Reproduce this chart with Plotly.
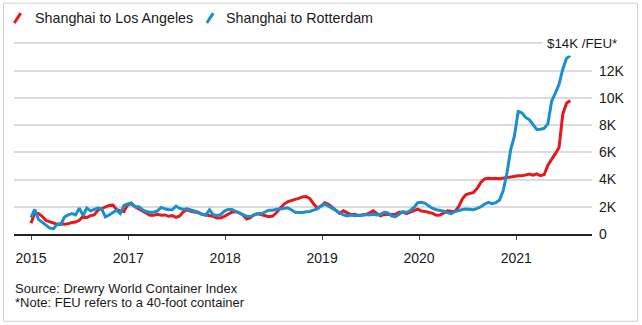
import pandas as pd
import plotly.graph_objects as go

# Drewry World Container Index, fortnightly readings, thousand USD per FEU
week_dates = pd.date_range("2016-01-01", periods=146, freq="14D")

la_k = [
    0.8, 1.5, 1.5, 1.3, 1.0, 0.9, 0.8, 0.72, 0.75, 0.72,
    0.75, 0.85, 0.88, 1.0, 1.3, 1.2, 1.35, 1.4, 1.75, 1.85,
    1.95, 2.1, 2.12, 1.8, 1.7, 1.65, 2.15, 2.22, 2.0, 1.85,
    1.66, 1.52, 1.37, 1.37, 1.44, 1.38, 1.4, 1.3, 1.35, 1.22,
    1.33, 1.65, 1.77, 1.67, 1.62, 1.55, 1.45, 1.41, 1.36, 1.3,
    1.18, 1.18, 1.3, 1.44, 1.6, 1.64, 1.55, 1.4, 1.1, 1.2,
    1.42, 1.48, 1.4, 1.36, 1.27, 1.32, 1.56, 1.9, 2.18, 2.36,
    2.47, 2.54, 2.62, 2.72, 2.75, 2.6, 2.2, 1.9, 2.05, 2.3,
    2.18, 1.95, 1.75, 1.52, 1.7, 1.56, 1.42, 1.45, 1.36, 1.38,
    1.43, 1.56, 1.7, 1.5, 1.33, 1.44, 1.45, 1.45, 1.45, 1.6,
    1.6, 1.5, 1.6, 1.72, 1.82, 1.68, 1.66, 1.58, 1.52, 1.38,
    1.4, 1.55, 1.7, 1.67, 1.66, 2.0, 2.58, 2.9, 3.0, 3.05,
    3.35, 3.8, 4.05, 4.1, 4.08, 4.1, 4.05, 4.1, 4.15, 4.18,
    4.22, 4.28, 4.27, 4.36, 4.4, 4.32, 4.42, 4.28, 4.36, 5.05,
    5.45, 5.9, 6.35, 8.8, 9.6, 9.8,
]

rotterdam_k = [
    1.2, 1.8, 1.07, 0.88, 0.65, 0.45, 0.38, 0.72, 0.7, 1.25,
    1.4, 1.5, 1.4, 1.9, 1.35, 1.9, 1.7, 1.8, 1.9, 1.85,
    1.25, 1.4, 1.55, 1.75, 1.5, 2.1, 2.2, 2.28, 2.0, 2.0,
    1.78, 1.65, 1.6, 1.6, 1.7, 1.95, 1.85, 1.78, 1.78, 2.05,
    1.88, 1.8, 1.85, 1.77, 1.66, 1.6, 1.45, 1.38, 1.78, 1.42,
    1.36, 1.42, 1.68, 1.8, 1.8, 1.68, 1.58, 1.45, 1.3, 1.28,
    1.42, 1.5, 1.5, 1.62, 1.75, 1.75, 1.82, 1.83, 1.9, 1.92,
    1.78, 1.6, 1.58, 1.58, 1.64, 1.65, 1.75, 1.85, 2.05, 2.2,
    2.05, 1.88, 1.7, 1.52, 1.4, 1.33, 1.4, 1.35, 1.38, 1.36,
    1.43, 1.4, 1.45, 1.4, 1.45, 1.6, 1.55, 1.32, 1.27, 1.45,
    1.65, 1.58, 1.73, 1.95, 2.3, 2.33, 2.25, 2.05, 1.88, 1.78,
    1.75, 1.68, 1.57, 1.5, 1.65, 1.73, 1.8, 1.83, 1.8, 1.78,
    1.88, 2.0, 2.2, 2.32, 2.22, 2.3, 2.5, 3.2, 4.5, 6.2,
    7.2, 9.0, 8.9, 8.56, 8.4, 8.0, 7.68, 7.7, 7.76, 8.1,
    9.75, 10.35, 11.0, 12.1, 12.9, 13.1,
]

series_names = ["Shanghai to Los Angeles", "Shanghai to Rotterdam"]
series_colors = ["#e3191b", "#1a8fd0"]

x_tick_dates = ["2016-01-01", "2017-01-01", "2018-01-01", "2019-01-01", "2020-01-01", "2021-01-01"]
x_tick_labels = ["2015", "2017", "2018", "2019", "2020", "2021"]
y_tick_values = [0, 2, 4, 6, 8, 10, 12, 14]
y_tick_labels = ["0", "2K", "4K", "6K", "8K", "10K", "12K", ""]
unit_label = "$14K /FEU*"
footnotes = ["Source: Drewry World Container Index", "*Note: FEU refers to a 40-foot container"]

W, H = 642, 325
M_L, M_R, M_T, M_B = 14, 50, 41.5, 91
PLOT_W = W - M_L - M_R
PLOT_H = H - M_T - M_B
FONT = "Liberation Sans, Arial, Helvetica, sans-serif"
TEXT = "#1a1a1a"


def px_x(px):
    return (px - M_L) / PLOT_W


def px_y(py):
    return (H - M_B - py) / PLOT_H


fig = go.Figure()
for name, vals, col in zip(series_names, [la_k, rotterdam_k], series_colors):
    fig.add_trace(go.Scatter(
        x=week_dates, y=vals, name=name, mode="lines",
        line=dict(color=col, width=3), showlegend=False,
    ))

shapes = []
annotations = []

# frame around the graphic
shapes.append(dict(type="rect", xref="paper", yref="paper",
                   x0=px_x(3.5), x1=px_x(637.5), y0=px_y(321.5), y1=px_y(2.5),
                   line=dict(color="#d0d0d0", width=1), fillcolor="rgba(0,0,0,0)", layer="below"))

# legend: coloured slash + label
legend_pos = [(17.5, 33), (210, 224)]
for (cx, tx), name, col in zip(legend_pos, series_names, series_colors):
    shapes.append(dict(type="line", xref="paper", yref="paper",
                       x0=px_x(cx - 3.2), y0=px_y(22.5), x1=px_x(cx + 3.2), y1=px_y(12.5),
                       line=dict(color=col, width=3)))
    annotations.append(dict(text=name, xref="paper", yref="paper",
                            x=px_x(tx), y=px_y(17.5), xanchor="left", yanchor="middle",
                            showarrow=False, font=dict(size=14.3, color=TEXT, family=FONT)))

# unit label sitting on the top grid line
annotations.append(dict(text=unit_label, xref="paper", yref="y",
                        x=px_x(542), y=14, xanchor="left", yanchor="middle",
                        showarrow=False, bgcolor="white", borderpad=4,
                        font=dict(size=13.3, color=TEXT, family=FONT)))

for i, note in enumerate(footnotes):
    annotations.append(dict(text=note, xref="paper", yref="paper",
                            x=px_x(13), y=px_y(288.5 + 14 * i), xanchor="left", yanchor="middle",
                            showarrow=False, font=dict(size=13, color=TEXT, family=FONT)))

fig.update_layout(
    width=W, height=H,
    margin=dict(l=M_L, r=M_R, t=M_T, b=M_B, pad=0),
    paper_bgcolor="white", plot_bgcolor="white",
    font=dict(family=FONT, size=14, color=TEXT),
    shapes=shapes, annotations=annotations,
    xaxis=dict(
        type="date", range=["2015-10-29", "2021-10-13"],
        tickvals=x_tick_dates, ticktext=x_tick_labels,
        showgrid=False, zeroline=False,
        showline=True, linecolor="#222222", linewidth=1.5,
        ticks="outside", ticklen=4, tickwidth=1, tickcolor="#444444",
        ticklabelstandoff=6,
        tickfont=dict(size=14, color=TEXT, family=FONT),
    ),
    yaxis=dict(
        side="right", range=[0, 14.1],
        tickvals=y_tick_values, ticktext=y_tick_labels,
        showgrid=True, gridcolor="#dcdcdc", gridwidth=2,
        zeroline=False, showline=False, ticks="",
        ticklabelstandoff=6,
        tickfont=dict(size=14, color=TEXT, family=FONT),
    ),
)

fig.write_html("out.html")
